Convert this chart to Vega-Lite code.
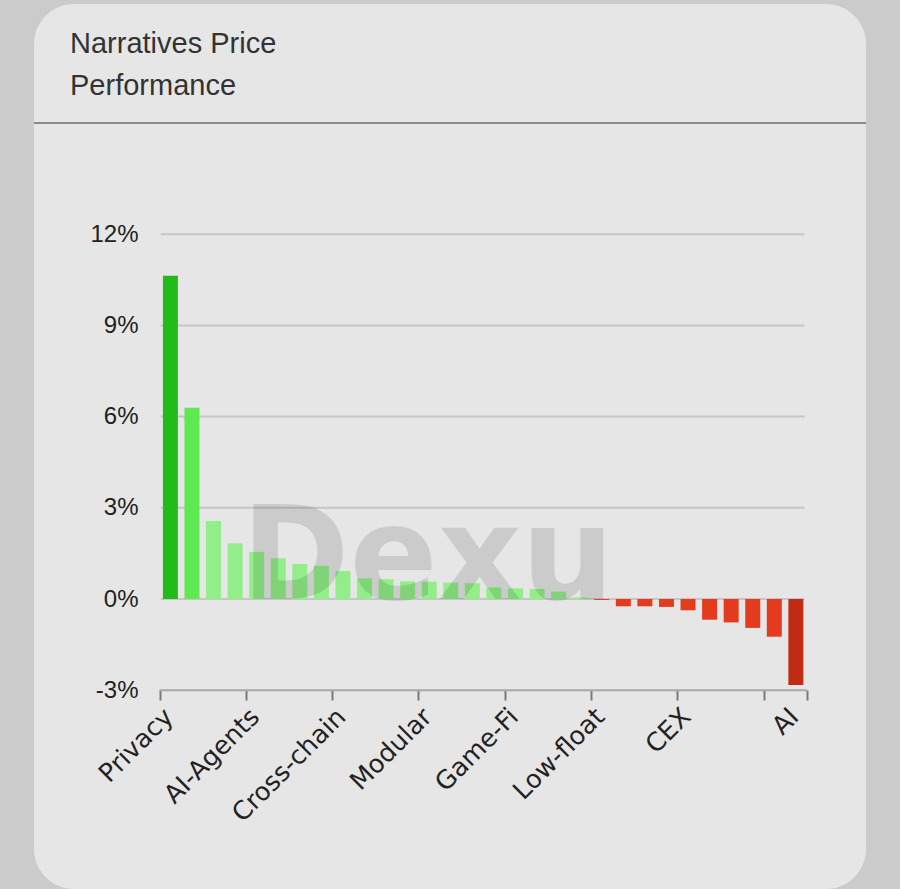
{
  "$schema": "https://vega.github.io/schema/vega-lite/v6.json",
  "width": 832,
  "height": 885,
  "autosize": {"type": "none"},
  "padding": {"left": 34, "top": 4, "right": 34, "bottom": 0},
  "background": "#cbcbcb",
  "config": {
    "view": {"fill": "#e6e6e6", "stroke": null, "cornerRadius": 40}
  },
  "title": {
    "text": ["Narratives Price", "Performance"],
    "anchor": "start",
    "frame": "group",
    "orient": "top",
    "offset": -97,
    "baseline": "top",
    "dx": 36,
    "font": "Liberation Sans",
    "fontSize": 29,
    "fontWeight": "normal",
    "color": "#333333",
    "lineHeight": 42
  },
  "data": {
    "values": [
      {"rank": 0, "name": "Privacy", "change": 10.63},
      {"rank": 1, "name": "ZK", "change": 6.29},
      {"rank": 2, "name": "RWA", "change": 2.57},
      {"rank": 3, "name": "DePIN", "change": 1.83},
      {"rank": 4, "name": "AI-Agents", "change": 1.55},
      {"rank": 5, "name": "Oracle", "change": 1.34},
      {"rank": 6, "name": "Layer 2", "change": 1.15},
      {"rank": 7, "name": "DeFi", "change": 1.09},
      {"rank": 8, "name": "Cross-chain", "change": 0.92},
      {"rank": 9, "name": "Restaking", "change": 0.68},
      {"rank": 10, "name": "Meme", "change": 0.65},
      {"rank": 11, "name": "Layer 1", "change": 0.58},
      {"rank": 12, "name": "Modular", "change": 0.57},
      {"rank": 13, "name": "NFT", "change": 0.54},
      {"rank": 14, "name": "SocialFi", "change": 0.52},
      {"rank": 15, "name": "BTC Eco", "change": 0.38},
      {"rank": 16, "name": "Game-Fi", "change": 0.35},
      {"rank": 17, "name": "Storage", "change": 0.33},
      {"rank": 18, "name": "DEX", "change": 0.24},
      {"rank": 19, "name": "Lending", "change": 0.05},
      {"rank": 20, "name": "Low-float", "change": -0.03},
      {"rank": 21, "name": "Payments", "change": -0.24},
      {"rank": 22, "name": "Metaverse", "change": -0.24},
      {"rank": 23, "name": "LSD", "change": -0.26},
      {"rank": 24, "name": "CEX", "change": -0.37},
      {"rank": 25, "name": "Perps", "change": -0.68},
      {"rank": 26, "name": "Stablecoin", "change": -0.77},
      {"rank": 27, "name": "Launchpad", "change": -0.95},
      {"rank": 28, "name": "Solana Eco", "change": -1.24},
      {"rank": 29, "name": "AI", "change": -2.83}
    ]
  },
  "layer": [
    {
      "data": {"values": [{}]},
      "mark": {"type": "rule", "color": "#8a8a8a", "strokeWidth": 2},
      "encoding": {
        "y": {"datum": 15.66, "type": "quantitative", "scale": {"domain": [-9.539, 19.572], "nice": false, "zero": false}}
      }
    },
    {
      "data": {"values": [{"v": 0}, {"v": 3}, {"v": 6}, {"v": 9}, {"v": 12}]},
      "mark": {"type": "rule", "color": "#c6c6c6", "strokeWidth": 2},
      "encoding": {
        "y": {"field": "v", "type": "quantitative", "title": null, "scale": {"domain": [-9.539, 19.572], "nice": false, "zero": false}},
        "x": {"datum": -0.45, "type": "quantitative", "scale": {"domain": [-6.093, 32.02], "nice": false, "zero": false}},
        "x2": {"datum": 29.4}
      }
    },
    {
      "data": {"values": [{}]},
      "mark": {"type": "rule", "color": "#a8a8a8", "strokeWidth": 2},
      "encoding": {
        "y": {"datum": -3, "type": "quantitative", "scale": {"domain": [-9.539, 19.572], "nice": false, "zero": false}},
        "x": {"datum": -0.5, "type": "quantitative", "scale": {"domain": [-6.093, 32.02], "nice": false, "zero": false}},
        "x2": {"datum": 29.5}
      }
    },
    {
      "mark": {"type": "bar", "width": 15},
      "encoding": {
        "x": {
          "field": "rank",
          "type": "quantitative",
          "scale": {"domain": [-6.093, 32.02], "nice": false, "zero": false},
          "axis": {
            "title": null,
            "values": [-0.5, 3.5, 7.5, 11.5, 15.5, 19.5, 23.5, 27.5, 29.5],
            "labels": false,
            "domain": false,
            "grid": false,
            "ticks": true,
            "tickSize": 10,
            "tickWidth": 2,
            "tickColor": "#7a7a7a",
            "offset": -199
          }
        },
        "y": {
          "field": "change",
          "type": "quantitative",
          "scale": {"domain": [-9.539, 19.572], "nice": false, "zero": false},
          "axis": {
            "title": null,
            "values": [-3, 0, 3, 6, 9, 12],
            "labelExpr": "datum.value + '%'",
            "domain": false,
            "ticks": false,
            "grid": false,
            "offset": -111,
            "labelPadding": 7,
            "labelFont": "Liberation Sans",
            "labelFontSize": 24,
            "labelColor": "#222222"
          }
        },
        "y2": {"datum": 0},
        "color": {
          "field": "change",
          "type": "quantitative",
          "scale": {
            "type": "threshold",
            "domain": [-2, 0, 5, 8],
            "range": ["#c22b15", "#e43a1d", "#92ee88", "#5fe851", "#23bb1b"]
          },
          "legend": null
        }
      }
    },
    {
      "data": {"values": [{}]},
      "mark": {
        "type": "text",
        "text": "Dexu",
        "font": "DejaVu Sans",
        "fontWeight": "bold",
        "fontSize": 130,
        "align": "left",
        "baseline": "alphabetic",
        "color": "#000000",
        "opacity": 0.11
      },
      "encoding": {
        "x": {"datum": 3.3, "type": "quantitative", "scale": {"domain": [-6.093, 32.02], "nice": false, "zero": false}},
        "y": {"datum": 0, "type": "quantitative", "scale": {"domain": [-9.539, 19.572], "nice": false, "zero": false}}
      }
    },
    {
      "transform": [
        {"filter": "indexof(['Privacy','AI-Agents','Cross-chain','Modular','Game-Fi','Low-float','CEX','AI'], datum.name) >= 0"}
      ],
      "mark": {
        "type": "text",
        "angle": 315,
        "align": "right",
        "baseline": "middle",
        "dx": -17,
        "dy": 15,
        "font": "DejaVu Sans",
        "fontSize": 25.5,
        "color": "#222222"
      },
      "encoding": {
        "x": {"field": "rank", "type": "quantitative", "scale": {"domain": [-6.093, 32.02], "nice": false, "zero": false}},
        "y": {"datum": -3, "type": "quantitative", "scale": {"domain": [-9.539, 19.572], "nice": false, "zero": false}},
        "text": {"field": "name"}
      }
    }
  ]
}
